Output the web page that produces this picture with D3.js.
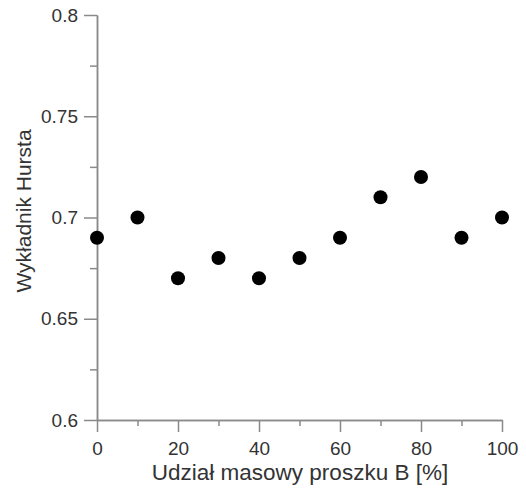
<!DOCTYPE html>
<html>
<head>
<meta charset="utf-8">
<script src="https://cdn.jsdelivr.net/npm/d3@7"></script>
<style>
  body { margin: 0; background: #fff; }
  text { font-family: "Liberation Sans", Arial, sans-serif; fill: #333; }
</style>
</head>
<body>
<div id="chart"></div>
<script>
// udzial masowy proszku B [%]
const shares = [0, 10, 20, 30, 40, 50, 60, 70, 80, 90, 100];
// wykladnik Hursta
const hurst = [0.69, 0.70, 0.67, 0.68, 0.67, 0.68, 0.69, 0.71, 0.72, 0.69, 0.70];
const xTicks = [0, 20, 40, 60, 80, 100];
const xMinor = [10, 30, 50, 70, 90];
const yTicks = [0.6, 0.65, 0.7, 0.75, 0.8];
const yMinor = [0.625, 0.675, 0.725, 0.775];

const W = 526, H = 488;
const plotLeft = 97, plotRight = 502, plotTop = 15, plotBottom = 420;
const axisColor = "#8a8a8a";

var svg = d3.select("#chart").append("svg")
  .attr("width", W).attr("height", H);

var x = d3.scaleLinear().domain([0, 100]).range([plotLeft, plotRight]);
var y = d3.scaleLinear().domain([0.6, 0.8]).range([plotBottom, plotTop]);

// x axis: major ticks with labels
svg.append("g")
  .attr("transform", `translate(0,${plotBottom})`)
  .call(d3.axisBottom(x).tickValues(xTicks).tickSize(12).tickSizeOuter(0).tickPadding(10).tickFormat(d3.format("d")));
// minor ticks
svg.append("g")
  .attr("transform", `translate(0,${plotBottom})`)
  .call(d3.axisBottom(x).tickValues(xMinor).tickSize(6).tickSizeOuter(0).tickFormat(""));

svg.append("g")
  .attr("transform", `translate(${plotLeft},0)`)
  .call(d3.axisLeft(y).tickValues(yTicks).tickSize(13).tickSizeOuter(0).tickPadding(6).tickFormat(d => String(+d.toFixed(2))));
svg.append("g")
  .attr("transform", `translate(${plotLeft},0)`)
  .call(d3.axisLeft(y).tickValues(yMinor).tickSize(7).tickSizeOuter(0).tickFormat(""));

svg.selectAll(".domain, .tick line").attr("stroke", axisColor).attr("stroke-width", 1.5);
svg.selectAll(".tick text")
  .attr("fill", "#333")
  .style("font-family", "'Liberation Sans', Arial, sans-serif")
  .style("font-size", "19px");

// axis titles
svg.append("text")
  .attr("x", 300).attr("y", 480)
  .attr("text-anchor", "middle")
  .style("font-size", "22.5px")
  .text("Udział masowy proszku B [%]");

svg.append("text")
  .attr("transform", `translate(31,211) rotate(-90)`)
  .attr("text-anchor", "middle")
  .style("font-size", "21px")
  .text("Wykładnik Hursta");

// points
svg.append("g")
  .selectAll("circle")
  .data(shares)
  .enter()
  .append("circle")
    .attr("cx", d => x(d))
    .attr("cy", (d, i) => y(hurst[i]))
    .attr("r", 7)
    .style("fill", "#000");
</script>
</body>
</html>
